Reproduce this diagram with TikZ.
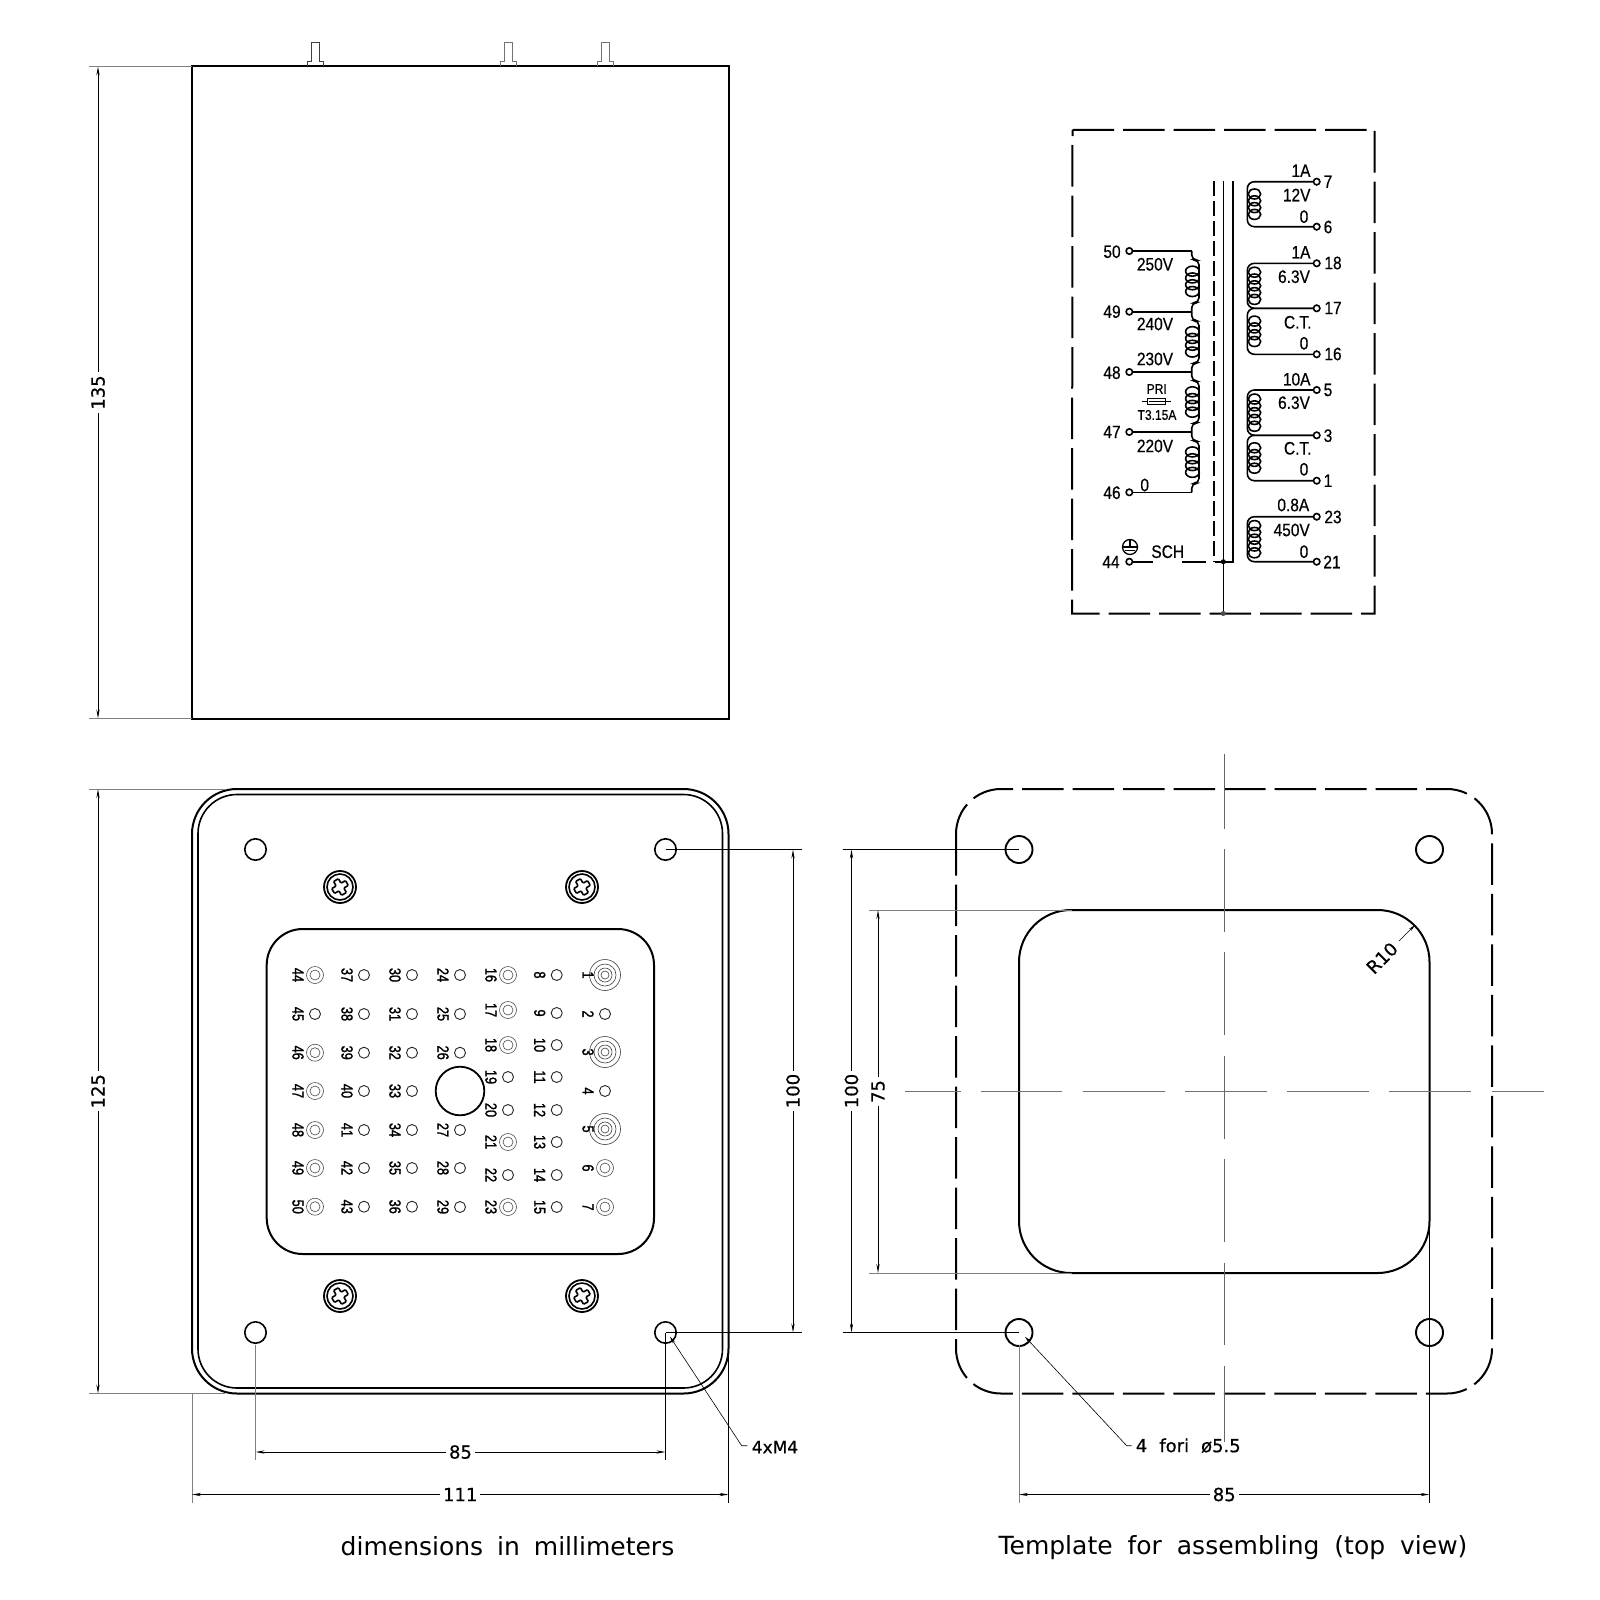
\documentclass[tikz,border=0pt]{standalone}
\usepackage{graphicx}
\usepackage{fontspec}
\setmainfont{Liberation Sans}
\newfontfamily\dimf[FakeBold=0.6]{DejaVu Sans}
\newfontfamily\capf{DejaVu Sans}
\newfontfamily\schf[FakeBold=0.5]{Liberation Sans}
\newfontfamily\gridf[FakeBold=1.6]{Liberation Sans}
\usetikzlibrary{arrows.meta}
\newcounter{lb}
\newcommand\T[3][]{\stepcounter{lb}\node[#1] (t\arabic{lb}) at (#2) {#3};}
\newcommand\nar[1]{\scalebox{.86}[1]{#1}}
\newcommand\grd[1]{\scalebox{.80}[1]{#1}}
\tikzset{
  outl/.style={line width=2pt,black},
  dimline/.style={line width=.9pt,black,{Stealth[length=9pt,width=3.2pt]}-{Stealth[length=9pt,width=3.2pt]}},
  extb/.style={line width=.9pt,black},
  extg/.style={line width=.9pt,black!50},
  dashbox/.style={line width=2pt,dash pattern=on 41.5pt off 9pt},
  centerl/.style={line width=1pt,black!60},
  dimtxt/.style={font=\dimf\fontsize{18}{20}\selectfont,fill=white,inner sep=3pt},
  plaintxt/.style={font=\dimf\fontsize{17}{20}\selectfont,inner sep=0pt},
  captxt/.style={font=\capf\fontsize{25}{28}\selectfont,inner sep=0pt},
  schem/.style={line width=1.6pt},
  sch/.style={font=\schf\fontsize{18}{20}\selectfont,inner sep=0pt},
  schs/.style={font=\schf\fontsize{14}{16}\selectfont,inner sep=0pt},
  grid/.style={font=\gridf\fontsize{16}{18}\selectfont,inner sep=0pt,rotate=-90},
  term/.style={schem,fill=white},
  pinc/.style={line width=.9pt,black!85},
  lead/.style={line width=.6pt,black,{Stealth[length=7pt,width=3pt]}-},
}
\newcommand\coil[4]{% xc, mid, rx, n
  \foreach \k in {1,...,#4}{
    \draw[schem] (#1,{#2+(\k-(#4+1)/2)*6.8}) ellipse ({#3} and 5);}
}
\newcommand\prim[2]{% ytop ybot
  \draw[schem,rounded corners=5pt] (1191.7,#1) -- (1191.7,#1+9) -- (1199,#1+9) -- (1199,#2-9) -- (1191.7,#2-9) -- (1191.7,#2);
  \coil{1192.4}{(#1+#2)/2}{6.8}{4}
}
\newcommand\secw[3]{% ya yb n
  \draw[schem,rounded corners=7pt] (1316.7,#1) -- (1247.3,#1) -- (1247.3,#2) -- (1316.7,#2);
  \coil{1254.5}{(#1+#2)/2}{6.2}{#3}
}
\newcommand\screw[2]{%
  \draw[line width=1.8pt] (#1,#2) circle (16);
  \draw[line width=1.6pt] (#1,#2) circle (13);
  \begin{scope}[shift={(#1,#2)},rotate=30]
  \draw[line width=1.6pt,rounded corners=1pt] (-2.8,-2.8) -- (-2.8,-8) -- (2.8,-8) -- (2.8,-2.8) -- (8,-2.8) -- (8,2.8) -- (2.8,2.8) -- (2.8,8) -- (-2.8,8) -- (-2.8,2.8) -- (-8,2.8) -- (-8,-2.8) -- cycle;
  \end{scope}
}
\newcommand\pinP[3]{\draw[pinc] (#2,#3) circle (5.5);\T[grid]{#2-17,#3}{\grd{#1}}}
\newcommand\pinD[3]{\draw[black!70,line width=.6pt] (#2,#3) circle (8.5);\draw[black!70,line width=.6pt] (#2,#3) circle (5);\T[grid]{#2-17,#3}{\grd{#1}}}
\newcommand\pinB[3]{\foreach \r in {15.5,11,7,4}{\draw[black!75,line width=.6pt] (#2,#3) circle (\r);}\T[grid]{#2-17,#3}{\grd{#1}}}
\begin{document}
\begin{tikzpicture}[x=1pt,y=-1pt]
\useasboundingbox[fill=white] (0,0) rectangle (1600,1600);

% ---------- top (side) view
\draw[outl] (192,66.5) rectangle (728.5,718.5);
\foreach \c/\g in {315.3/black!75,508.5/black!55,605/black!55}{
  \draw[line width=1pt,\g] (\c-8,66) -- (\c-8,62) -- (\c-4,62) -- (\c-4,43) -- (\c+4,43) -- (\c+4,62) -- (\c+8,62) -- (\c+8,66);
}
\draw[extg] (89,66.5) -- (192,66.5);
\draw[extg] (89,718.5) -- (192,718.5);
\draw[dimline] (98,66.5) -- node[dimtxt,rotate=90]{135} (98,718.5);

% ---------- schematic
\draw[dashbox] (1072.5,130) -- (1374.5,130) -- (1374.5,613.5) -- (1072,613.5) -- cycle;
\draw[schem,dash pattern=on 15pt off 5pt] (1214,181) -- (1214,561.7);
\draw[schem] (1232.7,181) -- (1232.7,561.7) -- (1215,561.7);
\draw[schem] (1223.3,181) -- (1223.3,613.5);
\fill (1223.3,561.7) circle (2.5);
\fill[black!70] (1223.3,613.5) circle (2.5);
% primary
\foreach \y in {251,311.7,372,432,492.3}{\draw[schem] (1129.3,\y) -- (1191.7,\y);}
\prim{251}{311.7}\prim{311.7}{372}\prim{372}{432}\prim{432}{492.3}
\draw[schem] (1129.3,561.7) -- (1153,561.7);
\draw[schem] (1182,561.7) -- (1206,561.7);
\foreach \y in {251,311.7,372,432,492.3,561.7}{\draw[term] (1129.3,\y) circle (3.2);}
% secondary
\secw{181.7}{226.7}{4}
\secw{263.3}{308.3}{5}\secw{308.3}{354.3}{4}
\secw{390}{435.3}{5}\secw{435.3}{480.7}{4}
\secw{516.7}{561.7}{5}
\foreach \y in {181.7,226.7,263.3,308.3,354.3,390,435.3,480.7,516.7,561.7}{\draw[term] (1316.7,\y) circle (3.2);}
% fuse
\draw[line width=1pt] (1141.7,401.7) -- (1147.7,401.7) (1165.7,401.7) -- (1171,401.7);
\draw[line width=1pt,fill=white] (1147.7,398.7) rectangle (1165.7,404.7);
\draw[line width=1.2pt] (1149,401.7) -- (1164.5,401.7);
% earth
\draw[line width=1.3pt] (1130,547) circle (7.5);
\draw[line width=1.3pt] (1130,539.5) -- (1130,548) (1122.5,547) -- (1137.5,547) (1125,550.5) -- (1135,550.5);
% schematic labels
\T[sch]{1112,251.7}{\nar{50}}\T[sch]{1112,311.7}{\nar{49}}\T[sch]{1112,372.7}{\nar{48}}
\T[sch]{1112,432}{\nar{47}}\T[sch]{1112,492.7}{\nar{46}}\T[sch]{1111,562}{\nar{44}}
\T[sch]{1328,181.7}{\nar{7}}\T[sch]{1328,227}{\nar{6}}
\T[sch]{1333,263}{\nar{18}}\T[sch]{1333,308}{\nar{17}}\T[sch]{1333,354}{\nar{16}}
\T[sch]{1328,390}{\nar{5}}\T[sch]{1328,435.7}{\nar{3}}\T[sch]{1328,480.7}{\nar{1}}
\T[sch]{1333,517}{\nar{23}}\T[sch]{1332,562}{\nar{21}}
\T[sch]{1155,264.3}{\nar{250V}}\T[sch]{1155,324}{\nar{240V}}\T[sch]{1155,359}{\nar{230V}}
\T[schs]{1156.7,389}{\nar{PRI}}\T[schs]{1157,415}{\nar{T3.15A}}
\T[sch]{1155,446}{\nar{220V}}\T[sch]{1144.7,485}{\nar{0}}
\T[sch]{1301,170.7}{\nar{1A}}\T[sch]{1296.7,195}{\nar{12V}}\T[sch]{1304,216.7}{\nar{0}}
\T[sch]{1301,252.3}{\nar{1A}}\T[sch]{1294,276.7}{\nar{6.3V}}\T[sch]{1297.7,322.3}{\nar{C.T.}}\T[sch]{1304,343.3}{\nar{0}}
\T[sch]{1296.7,379.3}{\nar{10A}}\T[sch]{1294,402.7}{\nar{6.3V}}\T[sch]{1297.7,448.3}{\nar{C.T.}}\T[sch]{1304,469.3}{\nar{0}}
\T[sch]{1293.3,505}{\nar{0.8A}}\T[sch]{1291.7,530}{\nar{450V}}\T[sch]{1304,551.7}{\nar{0}}
\T[sch]{1167.7,551.7}{\nar{SCH}}

% ---------- bottom view
\draw[outl,rounded corners=45pt] (192,789) rectangle (728.5,1393.5);
\draw[line width=1.6pt,rounded corners=39pt] (198,794.5) rectangle (722.5,1388);
\foreach \x/\y in {255.5/849.5,665.5/849.5,255.5/1332.5,665.5/1332.5}{\draw[line width=1.6pt] (\x,\y) circle (10.7);}
\screw{340}{887}\screw{582}{887}\screw{340}{1296}\screw{582}{1296}
\draw[outl,rounded corners=36pt] (266.7,929) rectangle (654,1254);
\draw[line width=1.8pt] (460,1091) circle (24.3);
% pins
\pinD{44}{315}{975}\pinP{45}{315}{1014}\pinD{46}{315}{1052.7}\pinD{47}{315}{1091}\pinD{48}{315}{1130}\pinD{49}{315}{1168}\pinD{50}{315}{1206.7}
\pinP{37}{364}{975}\pinP{38}{364}{1014}\pinP{39}{364}{1052.7}\pinP{40}{364}{1091}\pinP{41}{364}{1130}\pinP{42}{364}{1168}\pinP{43}{364}{1206.7}
\pinP{30}{412}{975}\pinP{31}{412}{1014}\pinP{32}{412}{1052.7}\pinP{33}{412}{1091}\pinP{34}{412}{1130}\pinP{35}{412}{1168}\pinP{36}{412}{1206.7}
\pinP{24}{460}{975}\pinP{25}{460}{1014}\pinP{26}{460}{1052.7}\pinP{27}{460}{1130}\pinP{28}{460}{1168}\pinP{29}{460}{1207}
\pinD{16}{508}{975}\pinD{17}{508}{1010}\pinD{18}{508}{1045}\pinP{19}{508}{1077}\pinP{20}{508}{1110}\pinD{21}{508}{1142}\pinP{22}{508}{1175}\pinD{23}{508}{1207}
\pinP{8}{556.7}{975}\pinP{9}{556.7}{1013}\pinP{10}{556.7}{1045}\pinP{11}{556.7}{1077}\pinP{12}{556.7}{1110}\pinP{13}{556.7}{1142}\pinP{14}{556.7}{1175}\pinP{15}{556.7}{1207}
\pinB{1}{605}{975}\pinP{2}{605}{1014}\pinB{3}{605}{1052}\pinP{4}{605}{1091}\pinB{5}{605}{1129}\pinD{6}{605}{1168}\pinD{7}{605}{1207}
% dims bottom view
\draw[extg] (89,789) -- (225,789);
\draw[extg] (89,1393.5) -- (225,1393.5);
\draw[dimline] (98,789) -- node[dimtxt,rotate=90]{125} (98,1393.5);
\draw[extb] (665.5,849.5) -- (801.5,849.5);
\draw[extb] (665.5,1332.5) -- (801.5,1332.5);
\draw[dimline] (793,849.5) -- node[dimtxt,rotate=90]{100} (793,1332.5);
\draw[extg] (255.5,1345) -- (255.5,1460);
\draw[extb] (665.5,1333) -- (665.5,1460);
\draw[dimline] (255.5,1452) -- node[dimtxt]{85} (665.5,1452);
\draw[extg] (192,1393.5) -- (192,1503);
\draw[extb] (728.5,1345) -- (728.5,1503);
\draw[dimline] (192,1494.5) -- node[dimtxt]{111} (728.5,1494.5);
\T[plaintxt]{775,1447}{4xM4}
\draw[lead] (670,1336.7) -- (741.7,1445.7) -- (747.3,1445.7);

% ---------- template
\draw[dashbox,rounded corners=45pt] (956,789) rectangle (1492,1393.5);
\draw[outl,rounded corners=52pt] (1019,910) rectangle (1429.5,1273);
\foreach \x/\y in {1019/849.5,1429.5/849.5,1019/1332.5,1429.5/1332.5}{\draw[line width=1.9pt] (\x,\y) circle (13.5);}
\foreach \a/\b in {905/960.6,980.5/1062,1083/1165,1185/1267,1287/1369,1389/1471,1492/1544}{\draw[line width=1.4pt,black!55] (\a,1091.2) -- (\b,1091.2);}
\foreach \a/\b in {753.6/828.6,849/932,952/1035,1056/1139,1159/1242,1263/1345,1366/1442}{\draw[centerl] (1224,\a) -- (1224,\b);}
\draw[extb] (842.5,849.5) -- (1019,849.5);
\draw[extb] (842.5,1332.5) -- (1019,1332.5);
\draw[dimline] (851.5,849.5) -- node[dimtxt,rotate=90]{100} (851.5,1332.5);
\draw[extg] (869,910) -- (1072,910);
\draw[extg] (869,1273) -- (1072,1273);
\draw[dimline] (878,910) -- node[dimtxt,rotate=90]{75} (878,1273);
\draw[extg] (1019,1345) -- (1019,1503);
\draw[extb] (1429.5,1225) -- (1429.5,1503);
\draw[dimline] (1019,1494.5) -- node[dimtxt]{85} (1429.5,1494.5);
\T[plaintxt,rotate=45,font=\dimf\fontsize{18}{20}\selectfont]{1382,958}{R10}
\draw[lead] (1415,925) -- (1399,941);
\T[plaintxt,anchor=west,font=\dimf\fontsize{18}{20}\selectfont]{1135.7,1445.7}{4\hspace{12pt}fori\hspace{12pt}ø5.5}
\draw[lead] (1025,1336.7) -- (1126.7,1445.7) -- (1131.7,1445.7);

\T[captxt]{507.5,1546.5}{dimensions\hspace{6pt} in\hspace{6pt} millimeters}
\T[captxt]{1233,1548}{Template\hspace{7pt} for\hspace{7pt} assembling\hspace{7pt} (top\hspace{7pt} view)}
\end{tikzpicture}
\end{document}
